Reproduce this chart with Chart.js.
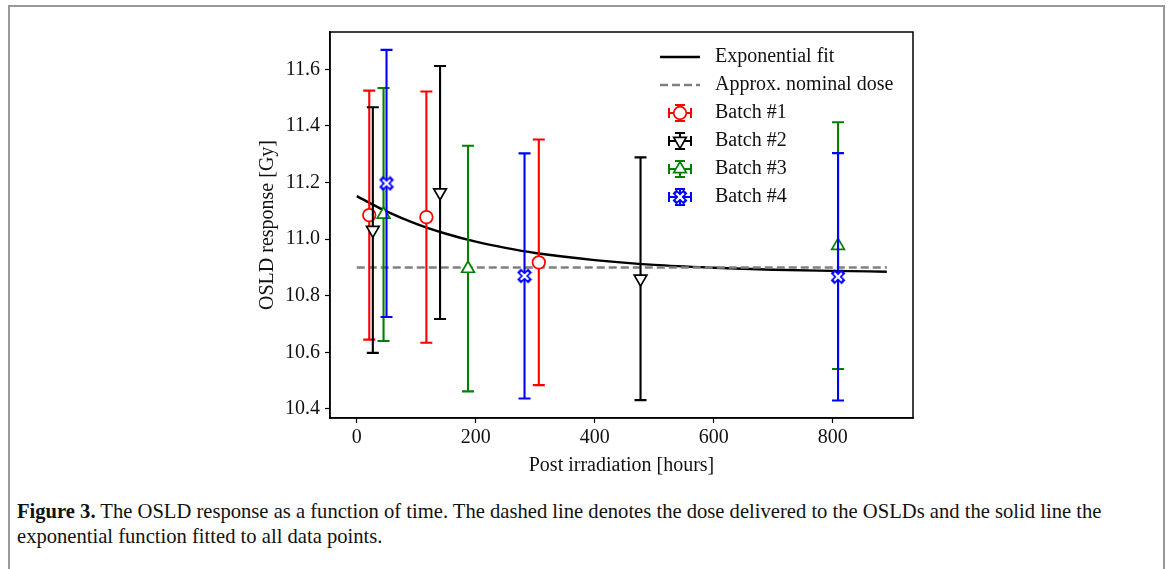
<!DOCTYPE html>
<html>
<head>
<meta charset="utf-8">
<script src="https://cdn.jsdelivr.net/npm/chart.js@4.4.0/dist/chart.umd.min.js"></script>
<style>
  html, body { margin: 0; padding: 0; background: #fff; width: 1171px; height: 569px; overflow: hidden; }
  #frame { position: absolute; left: 8px; top: 5px; width: 1153px; height: 700px; border: 2px solid #999; }
  #wrap { position: absolute; left: 0; top: 0; width: 1171px; height: 480px; }
  #caption { position: absolute; left: 17px; top: 499px; width: 1145px; font-family: "Liberation Serif", serif; font-size: 20.6px; line-height: 25px; color: #111; }
</style>
</head>
<body>
<div id="frame"></div>
<div id="wrap"><canvas id="chart" width="1171" height="480"></canvas></div>
<div id="caption"><b>Figure 3.</b> The OSLD response as a function of time. The dashed line denotes the dose delivered to the OSLDs and the solid line the<br>exponential function fitted to all data points.</div>
<script>
// values
const xTicks = [0, 200, 400, 600, 800];
const yTicks = [10.4, 10.6, 10.8, 11.0, 11.2, 11.4, 11.6];

const fitX = [0, 50, 100, 150, 200, 250, 300, 400, 500, 600, 700, 800, 891];
const fitY = [11.152, 11.098, 11.054, 11.019, 10.991, 10.969, 10.951, 10.926, 10.909, 10.899, 10.892, 10.888, 10.885];
const nominalX = [0, 891];
const nominalY = [10.9, 10.9];

const batch1X = [21, 117, 306];
const batch1Y = [11.085, 11.078, 10.918];
const batch1Err = [0.440, 0.444, 0.434];
const batch2X = [27, 140, 477];
const batch2Y = [11.032, 11.165, 10.860];
const batch2Err = [0.434, 0.447, 0.429];
const batch3X = [45, 187, 809];
const batch3Y = [11.087, 10.896, 10.977];
const batch3Err = [0.447, 0.434, 0.436];
const batch4X = [50, 282, 809];
const batch4Y = [11.197, 10.870, 10.867];
const batch4Err = [0.472, 0.433, 0.437];

const FONT = '"Liberation Serif", serif';
const FS = 20;

function xMarker(color) {
    const c = document.createElement('canvas');
    c.width = 16; c.height = 16;
    const g = c.getContext('2d');
    g.translate(8, 8);
    g.strokeStyle = color; g.lineWidth = 5.5;
    g.beginPath(); g.moveTo(-5.5, -5.5); g.lineTo(5.5, 5.5); g.moveTo(5.5, -5.5); g.lineTo(-5.5, 5.5); g.stroke();
    g.strokeStyle = '#fff'; g.lineWidth = 2.2;
    g.beginPath(); g.moveTo(-3.8, -3.8); g.lineTo(3.8, 3.8); g.moveTo(3.8, -3.8); g.lineTo(-3.8, 3.8); g.stroke();
    return c;
}
const blueX = xMarker('#0000ff');

const zip = (xs, ys) => xs.map((x, i) => ({ x: x, y: ys[i] }));

function batch(label, xs, ys, errs, color, style, rot, order) {
    return {
        label: label, data: zip(xs, ys), errs: errs, showLine: false, order: order,
        borderColor: color, backgroundColor: '#fff', pointBorderColor: color,
        pointBackgroundColor: '#fff', pointStyle: style, pointRotation: rot || 0,
        pointRadius: style === 'circle' ? 6.3 : 7.3, pointBorderWidth: 1.7, pointHoverRadius: 7
    };
}

// lower order is painted last (on top), so later batches cover earlier ones
const datasets = [
    { label: 'Exponential fit', data: zip(fitX, fitY), showLine: true, borderColor: '#000', borderWidth: 2.4,
      pointRadius: 0, cubicInterpolationMode: 'monotone', fill: false, isLine: true, order: 6 },
    { label: 'Approx. nominal dose', data: zip(nominalX, nominalY), showLine: true, borderColor: '#808080', borderWidth: 2.6,
      borderDash: [8, 4], pointRadius: 0, fill: false, isLine: true, order: 5 },
    batch('Batch #1', batch1X, batch1Y, batch1Err, '#ff0000', 'circle', 0, 4),
    batch('Batch #2', batch2X, batch2Y, batch2Err, '#000000', 'triangle', 180, 3),
    batch('Batch #3', batch3X, batch3Y, batch3Err, '#008000', 'triangle', 0, 2),
    batch('Batch #4', batch4X, batch4Y, batch4Err, '#0000ff', blueX, 0, 1)
];

const errorBars = {
    id: 'errorBars',
    beforeDatasetDraw(chart, args) {
        const ds = chart.data.datasets[args.index];
        if (!ds.errs) return;
        const ctx = chart.ctx, xs = chart.scales.x, ys = chart.scales.y;
        ctx.save();
        ctx.strokeStyle = ds.borderColor; ctx.lineWidth = 2.1;
        ds.data.forEach((p, i) => {
            const px = xs.getPixelForValue(p.x);
            const top = ys.getPixelForValue(p.y + ds.errs[i]);
            const bot = ys.getPixelForValue(p.y - ds.errs[i]);
            ctx.beginPath();
            ctx.moveTo(px, top); ctx.lineTo(px, bot);
            ctx.moveTo(px - 6, top); ctx.lineTo(px + 6, top);
            ctx.moveTo(px - 6, bot); ctx.lineTo(px + 6, bot);
            ctx.stroke();
        });
        ctx.restore();
    }
};

const boxAndLegend = {
    id: 'boxAndLegend',
    afterDraw(chart) {
        const ctx = chart.ctx, a = chart.chartArea;
        ctx.save();
        ctx.strokeStyle = '#000'; ctx.lineWidth = 1.5;
        ctx.strokeRect(a.left, a.top, a.right - a.left, a.bottom - a.top);
        // legend
        const lx = 680, tx = 715, y0 = 57, dy = 28;
        ctx.font = FS + 'px ' + FONT; ctx.textBaseline = 'middle';
        chart.data.datasets.forEach((ds, i) => {
            const y = y0 + i * dy;
            ctx.strokeStyle = ds.borderColor;
            if (ds.isLine) {
                ctx.lineWidth = ds.borderWidth;
                ctx.setLineDash(ds.borderDash || []);
                ctx.beginPath(); ctx.moveTo(lx - 20, y); ctx.lineTo(lx + 20, y); ctx.stroke();
                ctx.setLineDash([]);
            } else {
                ctx.lineWidth = 2;
                ctx.beginPath();
                ctx.moveTo(lx - 11, y); ctx.lineTo(lx + 11, y);
                ctx.moveTo(lx - 11, y - 5); ctx.lineTo(lx - 11, y + 5);
                ctx.moveTo(lx + 11, y - 5); ctx.lineTo(lx + 11, y + 5);
                ctx.moveTo(lx, y - 8); ctx.lineTo(lx, y + 8);
                ctx.moveTo(lx - 5, y - 8); ctx.lineTo(lx + 5, y - 8);
                ctx.moveTo(lx - 5, y + 8); ctx.lineTo(lx + 5, y + 8);
                ctx.stroke();
                ctx.fillStyle = '#fff';
                ctx.lineWidth = ds.pointBorderWidth;
                Chart.helpers.drawPoint(ctx, {
                    pointStyle: ds.pointStyle, rotation: ds.pointRotation,
                    radius: ds.pointRadius, borderWidth: ds.pointBorderWidth
                }, lx, y);
            }
            ctx.fillStyle = '#111';
            ctx.fillText(ds.label, tx, y);
        });
        ctx.restore();
    }
};

new Chart(document.getElementById('chart'), {
    type: 'scatter',
    data: { datasets: datasets },
    options: {
        responsive: false,
        animation: false,
        layout: { padding: { left: 252, right: 258, top: 32, bottom: 0 } },
        plugins: { legend: { display: false }, tooltip: { enabled: false } },
        scales: {
            x: {
                type: 'linear', min: -45, max: 935,
                afterBuildTicks: s => { s.ticks = xTicks.map(v => ({ value: v })); },
                afterFit: s => { s.height = 62; },
                border: { display: true, color: '#000', width: 1.5 },
                grid: { display: true, drawOnChartArea: false, drawTicks: true, tickLength: 5, color: '#000', tickWidth: 1.2 },
                ticks: { color: '#111', font: { family: FONT, size: FS }, padding: 3, maxRotation: 0 },
                title: { display: true, text: 'Post irradiation [hours]', color: '#111', font: { family: FONT, size: FS }, padding: { top: 0, bottom: 2 } }
            },
            y: {
                type: 'linear', min: 10.368, max: 11.732,
                afterBuildTicks: s => { s.ticks = yTicks.map(v => ({ value: v })); },
                afterFit: s => { s.width = 78; },
                border: { display: true, color: '#000', width: 1.5 },
                grid: { display: true, drawOnChartArea: false, drawTicks: true, tickLength: 5, color: '#000', tickWidth: 1.2 },
                ticks: { color: '#111', font: { family: FONT, size: FS }, padding: 5, callback: v => v.toFixed(1) },
                title: { display: true, text: 'OSLD response [Gy]', color: '#111', font: { family: FONT, size: FS }, padding: { top: 4, bottom: 0 } }
            }
        }
    },
    plugins: [errorBars, boxAndLegend]
});
</script>
</body>
</html>
